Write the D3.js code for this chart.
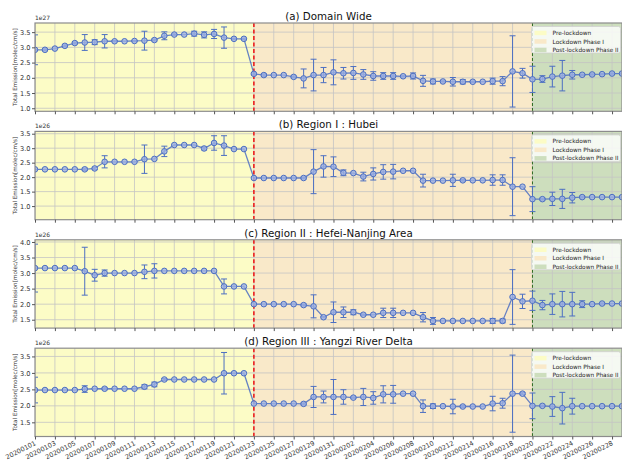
<!DOCTYPE html>
<html>
<head>
<meta charset="utf-8">
<script src="https://cdn.jsdelivr.net/npm/d3@7"></script>
<style>
  body { margin: 0; background: #fff; }
  text { font-family: "DejaVu Sans", sans-serif; }
</style>
</head>
<body>
<div id="plot"></div>
<script>
// Dates on the x axis (Jan 1 - Feb 29, 2020)
var dates = ["20200101","20200102","20200103","20200104","20200105","20200106","20200107","20200108","20200109","20200110",
  "20200111","20200112","20200113","20200114","20200115","20200116","20200117","20200118","20200119","20200120",
  "20200121","20200122","20200123","20200124","20200125","20200126","20200127","20200128","20200129","20200130",
  "20200131","20200201","20200202","20200203","20200204","20200205","20200206","20200207","20200208","20200209",
  "20200210","20200211","20200212","20200213","20200214","20200215","20200216","20200217","20200218","20200219",
  "20200220","20200221","20200222","20200223","20200224","20200225","20200226","20200227","20200228","20200229"];

// Panel titles and exponents
var titles = ["(a) Domain Wide", "(b) Region I : Hubei", "(c) Region II : Hefei-Nanjing Area", "(d) Region III : Yangzi River Delta"];
var exponents = ["1e27", "1e26", "1e26", "1e26"];

// Total emission (scaled by exponent) and error half-widths
var domainWide = [2.92,2.92,2.96,3.05,3.14,3.16,3.17,3.20,3.20,3.20, 3.21,3.22,3.24,3.38,3.42,3.42,3.45,3.41,3.44,3.32,
  3.28,3.28,2.13,2.09,2.09,2.09,2.03,1.98,2.09,2.09, 2.18,2.15,2.16,2.11,2.06,2.06,2.06,2.05,2.06,1.90,
  1.88,1.88,1.87,1.87,1.87,1.87,1.89,1.89,2.21,2.15, 1.95,1.96,2.04,2.07,2.10,2.10,2.11,2.12,2.14,2.14];
var domainWideErr = [0.49,0.03,0,0.03,0.03,0.26,0.08,0.22,0.02,0, 0.02,0.31,0.03,0.13,0.02,0,0.08,0.10,0.15,0.35,
  0.02,0.02,0.03,0.04,0,0,0.03,0.31,0.52,0.25, 0.41,0.19,0.21,0.16,0.14,0.11,0.11,0.02,0.10,0.18,
  0.08,0.02,0.14,0.07,0.02,0,0.10,0.15,1.17,0.16, 0.43,0.11,0.34,0.50,0.14,0.02,0.02,0.02,0.02,0.02];

var hubei = [2.27,2.27,2.27,2.27,2.27,2.27,2.30,2.53,2.53,2.53, 2.53,2.62,2.63,2.89,3.11,3.11,3.11,2.99,3.18,3.09,
  2.97,2.97,1.97,1.97,1.97,1.97,1.97,1.97,2.19,2.37, 2.36,2.15,2.14,2.02,2.11,2.18,2.19,2.22,2.22,1.88,
  1.88,1.88,1.89,1.89,1.89,1.89,1.90,1.90,1.67,1.67, 1.24,1.24,1.25,1.25,1.29,1.31,1.31,1.31,1.31,1.31];
var hubeiErr = [0,0,0,0,0,0.04,0.04,0.21,0,0, 0,0.49,0,0.18,0,0,0,0.05,0.25,0.34,
  0,0,0,0,0,0,0,0.03,0.76,0.37, 0.34,0.10,0,0.15,0.21,0.25,0.25,0,0,0.22,
  0,0,0.21,0.03,0,0,0.18,0.18,1.00,0, 0.43,0.03,0.23,0.33,0.18,0.03,0,0,0,0];

var hefeiNanjing = [3.16,3.16,3.16,3.16,3.16,3.06,2.93,3.00,3.00,3.00, 3.00,3.04,3.07,3.07,3.07,3.07,3.07,3.07,3.07,2.57,
  2.57,2.57,2.00,2.00,2.00,2.00,2.00,1.97,1.93,1.58, 1.74,1.74,1.74,1.66,1.66,1.72,1.72,1.72,1.72,1.58,
  1.46,1.46,1.46,1.46,1.46,1.46,1.46,1.46,2.23,2.09, 2.11,1.97,2.00,2.00,2.00,2.00,2.00,2.02,2.02,2.02];
var hefeiNanjingErr = [0.77,0,0,0,0,0.77,0.19,0.10,0,0, 0,0.22,0.23,0,0,0,0,0,0,0.24,
  0,0,0,0,0,0,0,0.03,0.37,0.02, 0.33,0.17,0.08,0.02,0,0.15,0.15,0,0,0.15,
  0.11,0,0,0,0,0,0.08,0.06,0.88,0.23, 0.31,0.15,0.33,0.41,0.38,0.11,0,0.02,0,0];

var yangzi = [2.48,2.48,2.48,2.48,2.48,2.51,2.52,2.52,2.52,2.52, 2.52,2.58,2.65,2.80,2.80,2.80,2.80,2.80,2.80,2.99,
  2.99,2.99,2.07,2.07,2.07,2.07,2.07,2.06,2.27,2.27, 2.27,2.27,2.25,2.27,2.24,2.35,2.35,2.37,2.37,1.99,
  1.99,1.99,1.98,1.98,1.98,1.98,2.07,2.08,2.37,2.37, 2.00,2.00,1.98,1.93,1.99,1.99,1.99,1.99,1.99,1.99];
var yangziErr = [0.39,0,0,0,0,0.10,0,0.03,0,0, 0,0.06,0.07,0.03,0,0,0,0,0,0.63,
  0,0,0,0,0,0,0,0.03,0.32,0.18, 0.53,0.22,0.02,0.26,0.19,0.26,0.27,0,0,0.19,
  0.07,0,0.22,0.03,0,0,0.22,0.15,1.17,0.03, 0.39,0.02,0.30,0.48,0.24,0,0,0,0,0];

// Phases (index into dates)
var phaseNames = ["Pre-lockdown", "Lockdown Phase I", "Post-lockdown Phase II"];
var phaseStart = [0, 22, 50];
var phaseEnd = [22, 50, 59];

var panels = [
  {values: domainWide, err: domainWideErr, yDomain: [0.9, 3.8], yTicks: [1.0, 1.5, 2.0, 2.5, 3.0, 3.5]},
  {values: hubei, err: hubeiErr, yDomain: [0.53, 3.58], yTicks: [1.0, 1.5, 2.0, 2.5, 3.0, 3.5]},
  {values: hefeiNanjing, err: hefeiNanjingErr, yDomain: [1.23, 4.07], yTicks: [1.5, 2.0, 2.5, 3.0, 3.5, 4.0]},
  {values: yangzi, err: yangziErr, yDomain: [1.07, 3.75], yTicks: [1.5, 2.0, 2.5, 3.0, 3.5]}
];

var phaseColors = ["#fcfcc6", "#f9e9c9", "#cddebd"];
var blue = "#4c6fc2";

var W = 622, H = 460;
var left = 35, right = 622;
var top0 = 23, step = 108.4, ph = 88.3;

var svg = d3.select("div#plot").append("svg")
    .attr("width", W)
    .attr("height", H);

var x = d3.scalePoint()
    .domain(dates)
    .range([left, right]);

var xTicks = dates.filter(function(d, i) { return i % 2 === 0; });

panels.forEach(function(p, k) {
  var top = top0 + k * step, bottom = top + ph;
  var y = d3.scaleLinear().domain(p.yDomain).range([bottom, top]);
  var g = svg.append("g");

  // clip region for the plot area
  svg.append("clipPath").attr("id", "clip" + k)
    .append("rect")
      .attr("x", left).attr("y", top)
      .attr("width", right - left).attr("height", ph);

  var plot = g.append("g").attr("clip-path", "url(#clip" + k + ")");

  // phase backgrounds
  plot.selectAll("rect.phase")
    .data(phaseNames)
    .enter().append("rect")
      .attr("class", "phase")
      .attr("x", function(d, i) { return x(dates[phaseStart[i]]); })
      .attr("y", top)
      .attr("width", function(d, i) { return x(dates[phaseEnd[i]]) - x(dates[phaseStart[i]]); })
      .attr("height", ph)
      .attr("fill", function(d, i) { return phaseColors[i]; });

  // grid
  plot.selectAll("line.gx")
    .data(xTicks)
    .enter().append("line")
      .attr("x1", function(d) { return x(d); })
      .attr("x2", function(d) { return x(d); })
      .attr("y1", top).attr("y2", bottom)
      .attr("stroke", "#c4c4c4").attr("stroke-width", 0.8);
  plot.selectAll("line.gy")
    .data(p.yTicks)
    .enter().append("line")
      .attr("x1", left).attr("x2", right)
      .attr("y1", function(d) { return y(d); })
      .attr("y2", function(d) { return y(d); })
      .attr("stroke", "#c4c4c4").attr("stroke-width", 0.8);

  // lockdown markers
  plot.append("line")
    .attr("x1", x(dates[22])).attr("x2", x(dates[22]))
    .attr("y1", top).attr("y2", bottom)
    .attr("stroke", "#ee1111").attr("stroke-width", 1.5)
    .attr("stroke-dasharray", "4,2.5");
  plot.append("line")
    .attr("x1", x(dates[50])).attr("x2", x(dates[50]))
    .attr("y1", top).attr("y2", bottom)
    .attr("stroke", "#2f6b1f").attr("stroke-width", 1)
    .attr("stroke-dasharray", "3,2");

  var pts = dates.map(function(d, i) { return {date: d, v: p.values[i], e: p.err[i]}; });

  // error bars
  var eb = plot.selectAll("g.eb")
    .data(pts.filter(function(d) { return d.e > 0; }))
    .enter().append("g")
      .attr("stroke", blue).attr("stroke-width", 1);
  eb.append("line")
    .attr("x1", function(d) { return x(d.date); })
    .attr("x2", function(d) { return x(d.date); })
    .attr("y1", function(d) { return y(d.v - d.e); })
    .attr("y2", function(d) { return y(d.v + d.e); });
  eb.append("line")
    .attr("x1", function(d) { return x(d.date) - 3; })
    .attr("x2", function(d) { return x(d.date) + 3; })
    .attr("y1", function(d) { return y(d.v - d.e); })
    .attr("y2", function(d) { return y(d.v - d.e); });
  eb.append("line")
    .attr("x1", function(d) { return x(d.date) - 3; })
    .attr("x2", function(d) { return x(d.date) + 3; })
    .attr("y1", function(d) { return y(d.v + d.e); })
    .attr("y2", function(d) { return y(d.v + d.e); });

  // line and markers
  plot.append("path")
    .datum(pts)
    .attr("fill", "none")
    .attr("stroke", blue)
    .attr("stroke-opacity", 0.85)
    .attr("stroke-width", 1.3)
    .attr("d", d3.line().x(function(d) { return x(d.date); }).y(function(d) { return y(d.v); }));
  plot.selectAll("circle")
    .data(pts)
    .enter().append("circle")
      .attr("cx", function(d) { return x(d.date); })
      .attr("cy", function(d) { return y(d.v); })
      .attr("r", 2.8)
      .attr("fill", "#9fb1e4")
      .attr("fill-opacity", 0.8)
      .attr("stroke", blue)
      .attr("stroke-width", 1);

  // frame
  g.append("rect")
    .attr("x", left).attr("y", top)
    .attr("width", right - left).attr("height", ph)
    .attr("fill", "none")
    .attr("stroke", "#8c8c8c").attr("stroke-width", 1.2);

  // y axis
  var ya = g.append("g")
    .attr("transform", "translate(" + left + ",0)")
    .call(d3.axisLeft(y).tickValues(p.yTicks).tickSize(3).tickPadding(1.5).tickFormat(d3.format(".1f")));
  ya.select(".domain").remove();
  ya.selectAll("line").attr("stroke", "#555");
  ya.selectAll("text").attr("font-size", "6.6px").attr("fill", "#333");

  // x axis
  var xa = g.append("g")
    .attr("transform", "translate(0," + bottom + ")")
    .call(d3.axisBottom(x).tickValues(xTicks).tickSize(3)
      .tickFormat(k === panels.length - 1 ? null : function() { return ""; }));
  xa.select(".domain").remove();
  xa.selectAll("line").attr("stroke", "#555");
  xa.selectAll("text")
    .attr("font-size", "6.5px").attr("fill", "#333")
    .attr("text-anchor", "end")
    .attr("x", 0).attr("y", 0).attr("dy", 0)
    .attr("transform", "translate(1,8) rotate(-27)");

  // title, exponent, y label
  g.append("text")
    .attr("x", (left + right) / 2).attr("y", top - 3)
    .attr("text-anchor", "middle")
    .attr("font-size", "10.3px").attr("fill", "#111")
    .text(titles[k]);
  g.append("text")
    .attr("x", left).attr("y", top - 3)
    .attr("font-size", "6px").attr("fill", "#333")
    .text(exponents[k]);
  g.append("text")
    .attr("transform", "translate(17," + (top + ph / 2) + ") rotate(-90)")
    .attr("text-anchor", "middle")
    .attr("font-size", "5.7px").attr("fill", "#333")
    .text("Total Emission[molec/cm/s]");

  // legend
  var lg = g.append("g").attr("transform", "translate(531.5," + (top + 3.5) + ")");
  lg.append("rect")
    .attr("width", 89).attr("height", 26.5).attr("rx", 2)
    .attr("fill", "#fff").attr("fill-opacity", 0.8)
    .attr("stroke", "#d0d0d0").attr("stroke-width", 0.8);
  var items = lg.selectAll("g.item")
    .data(phaseNames)
    .enter().append("g")
      .attr("transform", function(d, i) { return "translate(3," + (4.2 + i * 8.5) + ")"; });
  items.append("rect")
    .attr("width", 12).attr("height", 4.5)
    .attr("fill", function(d, i) { return phaseColors[i]; });
  items.append("text")
    .attr("x", 18).attr("y", 4.3)
    .attr("font-size", "5.8px").attr("fill", "#222")
    .text(function(d) { return d; });
});
</script>
</body>
</html>
